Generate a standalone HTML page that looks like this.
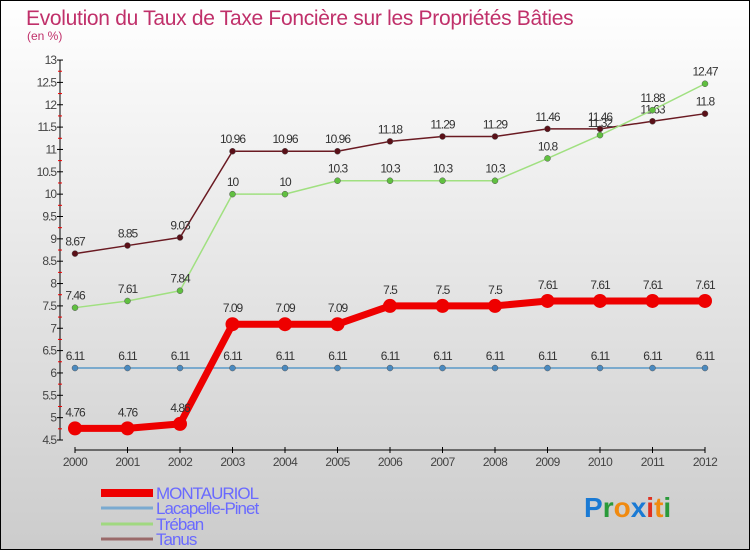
<!DOCTYPE html>
<html><head><meta charset="utf-8"><style>
body{margin:0}
#c{position:relative;width:748px;height:548px;border:1px solid #000;background:linear-gradient(#fff,#ccc);font-family:"Liberation Sans",sans-serif;overflow:hidden}
</style></head><body>
<div id="c">
<svg id="s" width="748" height="548">
<text x="25" y="24" font-size="21" fill="#c0306a" letter-spacing="-0.3">Evolution du Taux de Taxe Foncière sur les Propriétés Bâties</text>
<text x="26" y="39" font-size="12" fill="#c0306a">(en %)</text>
<g id="g"></g>
<text x="583" y="516" font-size="28" font-weight="bold"><tspan fill="#1a7ad4">P</tspan><tspan fill="#2a9a3a">r</tspan><tspan fill="#f08a10">o</tspan><tspan fill="#1a7ad4">x</tspan><tspan fill="#e03020">i</tspan><tspan fill="#f08a10">t</tspan><tspan fill="#2a9a3a">i</tspan></text>
</svg></div>
<script>
const years=[2000,2001,2002,2003,2004,2005,2006,2007,2008,2009,2010,2011,2012];
const montauriol=[4.76,4.76,4.86,7.09,7.09,7.09,7.5,7.5,7.5,7.61,7.61,7.61,7.61];
const lacapelle=[6.11,6.11,6.11,6.11,6.11,6.11,6.11,6.11,6.11,6.11,6.11,6.11,6.11];
const treban=[7.46,7.61,7.84,10,10,10.3,10.3,10.3,10.3,10.8,11.32,11.88,12.47];
const tanus=[8.67,8.85,9.03,10.96,10.96,10.96,11.18,11.29,11.29,11.46,11.46,11.63,11.8];
const yTicks=[4.5,5,5.5,6,6.5,7,7.5,8,8.5,9,9.5,10,10.5,11,11.5,12,12.5,13];
const names=['MONTAURIOL','Lacapelle-Pinet','Tréban','Tanus'];
const NS='http://www.w3.org/2000/svg',g=document.getElementById('g');
const X=i=>74+i*52.5, Y=v=>439-(v-4.5)*44.7;
function mk(t,a,p){const e=document.createElementNS(NS,t);for(const k in a)e.setAttribute(k,a[k]);(p||g).appendChild(e);return e;}
let e=mk('line',{x1:59,y1:Y(13),x2:59,y2:Y(4.5),stroke:'#000'});

yTicks.forEach(v=>{mk('line',{x1:56,x2:62,y1:Y(v),y2:Y(v),stroke:'#000'});
if(v<13)mk('line',{x1:57,x2:61,y1:Y(v+0.25),y2:Y(v+0.25),stroke:'#e00'});
let t=mk('text',{x:55,y:Y(v)+4,'font-size':12,fill:'#444','text-anchor':'end','letter-spacing':'-1'});t.textContent=v;
});
e=mk('line',{x1:X(0),x2:X(12),y1:449,y2:449,stroke:'#000'});

years.forEach((y,i)=>{mk('line',{x1:X(i),x2:X(i),y1:446,y2:452,stroke:'#000'});
let t=mk('text',{x:X(i),y:465,'font-size':12,fill:'#444','text-anchor':'middle','letter-spacing':'-0.6'});t.textContent=y;
});
const series=[[tanus,'#6a1a22','#5a1018',1.5,3],[treban,'#a0e080','#60c040',1.5,3],[lacapelle,'#5a9ac8','#4a8ac0',1.5,3],[montauriol,'#ee0000','#ee0000',7,7]];
const ids=['tanus','treban','lacapelle','montauriol'];
series.forEach(([d,c,mc,w,r],k)=>{
let p=mk('polyline',{points:d.map((v,i)=>X(i)+','+Y(v)).join(' '),fill:'none',stroke:c,'stroke-width':w,'stroke-linejoin':'round'});

d.forEach((v,i)=>{let q=mk('circle',{cx:X(i),cy:Y(v),r:r,fill:mc,stroke:k==3?'none':'#555','stroke-width':0.5});

let t=mk('text',{x:X(i),y:Y(v)-(k==3?12:8),'font-size':12,fill:'#333','text-anchor':'middle','letter-spacing':'-1'});t.textContent=v;
});});
const lc=['#ee0000','#7aaad0','#a0d880','#9a6a6a'],lw=[8,3,3,3],ly=[492,507,523,538];
names.forEach((n,k)=>{let l=mk('line',{x1:100,x2:152,y1:ly[k],y2:ly[k],stroke:lc[k],'stroke-width':lw[k]});

let t=mk('text',{x:155,y:ly[k]+6,'font-size':17,fill:'#6a6aff','letter-spacing':'-1'});t.textContent=n;
});
</script></body></html>
